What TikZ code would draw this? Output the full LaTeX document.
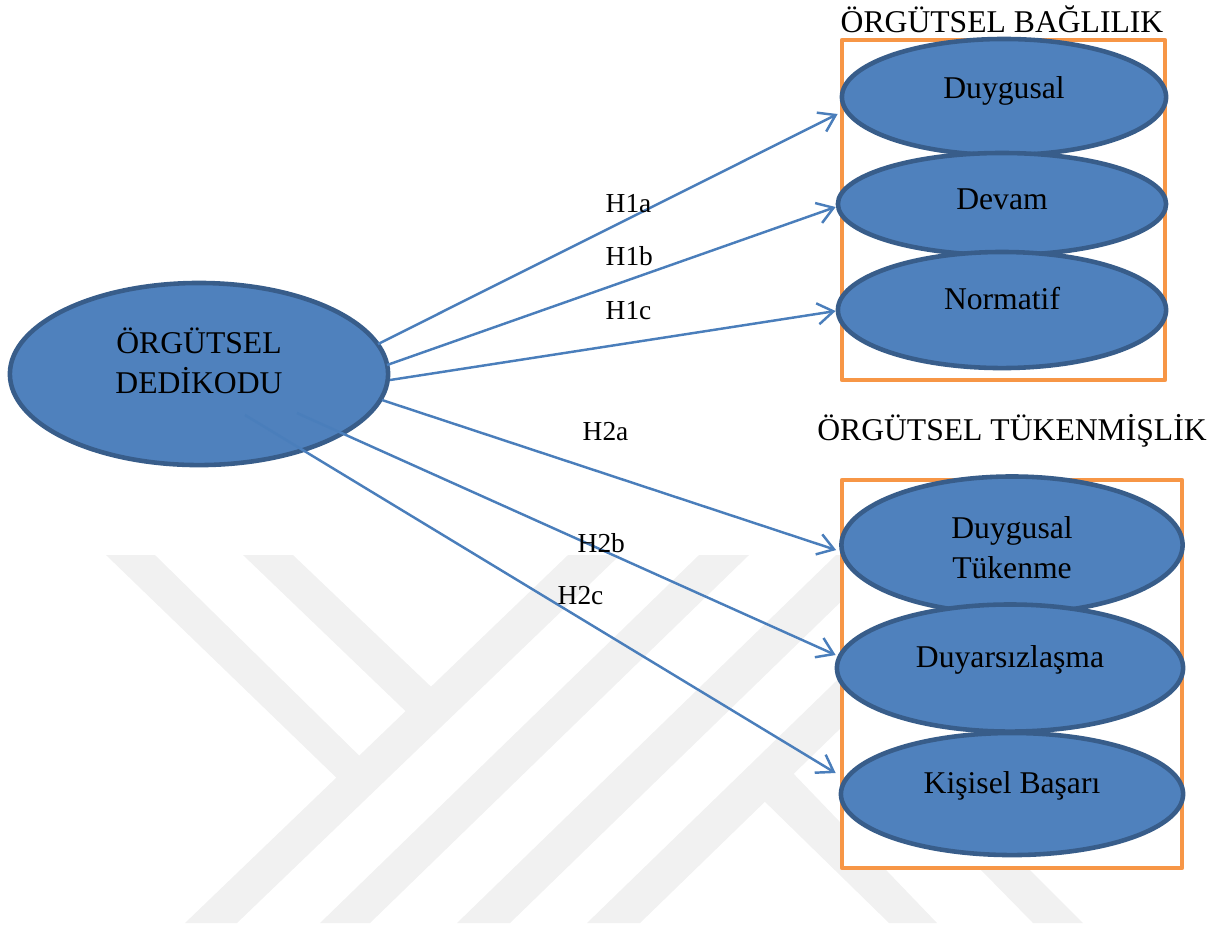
\documentclass[tikz,border=0pt]{standalone}
\usepackage{fontspec}
\setmainfont{Liberation Serif}
\usetikzlibrary{arrows.meta,calc,shapes.geometric}
\definecolor{shapefill}{RGB}{79,129,189}
\definecolor{shapeline}{RGB}{56,93,138}
\definecolor{linkblue}{RGB}{74,126,187}
\definecolor{frameorange}{RGB}{247,150,70}
\definecolor{markgray}{RGB}{241,241,241}
\begin{document}
\begin{tikzpicture}[x=0.01cm,y=-0.01cm,
  oval/.style={ellipse, fill=shapefill, draw=shapeline, line width=1.3pt, inner sep=0pt},
  caption/.style={font=\fontsize{9}{11.2}\selectfont, anchor=base, inner sep=0pt, align=center},
  hyp/.style={font=\fontsize{7.8}{9}\selectfont, anchor=base west, inner sep=0pt},
  frame/.style={draw=frameorange, fill=white, line width=1.2pt, line join=round},
  link/.style={draw=linkblue, line width=0.7pt, -{Straight Barb[length=4.5pt,width=6pt]}},
  wmark/.style={fill=markgray, draw=none}]
\useasboundingbox (0,0) rectangle (1222,929);

% light background emblem
\fill[wmark] (185,923) -- (237,923) -- (620,555) -- (568,555) -- cycle;
\fill[wmark] (106,555) -- (155,555) -- (380,776) -- (345,786) -- cycle;
\fill[wmark] (243,555) -- (293,555) -- (445,700) -- (420,725) -- cycle;
\fill[wmark] (320,923) -- (370,923) -- (749,555) -- (699,555) -- cycle;
\fill[wmark] (457,923) -- (510,923) -- (889,555) -- (836,555) -- cycle;
\fill[wmark] (587,923) -- (640,923) -- (1019,555) -- (966,555) -- cycle;
\fill[wmark] (758,795) -- (790,770) -- (937,923) -- (889,923) -- cycle;
\fill[wmark] (930,818) -- (978,818) -- (1083,923) -- (1033,923) -- cycle;

% group frames
\draw[frame] (842,40) rectangle (1165,380);
\draw[frame] (842,480) rectangle (1182,868);

% constructs
\node[oval, minimum width=3.78cm, minimum height=1.82cm] (ded) at (199,374) {};
\node[oval, minimum width=3.24cm, minimum height=1.16cm] (duy) at (1004,97) {};
\node[oval, minimum width=3.28cm, minimum height=1.02cm] (dev) at (1002,204) {};
\node[oval, minimum width=3.28cm, minimum height=1.16cm] (nor) at (1002,310) {};
\node[oval, minimum width=3.41cm, minimum height=1.37cm] (tuk) at (1012,545) {};
\node[oval, minimum width=3.46cm, minimum height=1.27cm] (duya) at (1010,668) {};
\node[oval, minimum width=3.42cm, minimum height=1.22cm] (kis) at (1012,794) {};

% captions (two-line captions sit on their last baseline)
\node[caption] (tded) at (199,393) {ÖRGÜTSEL\\DEDİKODU};
\node[caption] (tduy) at (1004,98) {Duygusal};
\node[caption] (tdev) at (1002,209) {Devam};
\node[caption] (tnor) at (1002,309) {Normatif};
\node[caption] (ttuk) at (1012,578) {Duygusal\\Tükenme};
\node[caption] (tduya) at (1010,667) {Duyarsızlaşma};
\node[caption] (tkis) at (1012,793) {Kişisel Başarı};
\node[caption] (head1) at (1002,32) {ÖRGÜTSEL BAĞLILIK};
\node[caption] (head2) at (1012,440) {ÖRGÜTSEL TÜKENMİŞLİK};

% hypotheses
\draw[link] ($(ded.center)+(179,-30)$) -- ($(duy.west)+(-2,17)$);
\draw[link] ($(ded.center)+(188,-9)$) -- ($(dev.west)+(0,3)$);
\draw[link] ($(ded.center)+(191,6)$) -- ($(nor.west)+(0,1)$);
\draw[link] ($(ded.center)+(183,26)$) -- ($(tuk.west)+(-3,5)$);
\draw[link] ($(ded.center)+(98,39)$) -- ($(duya.west)+(1,-13)$);
\draw[link] ($(ded.center)+(46,41)$) -- ($(kis.west)+(-3,-21)$);

\node[hyp] (h1a) at (605,212) {H1a};
\node[hyp] (h1b) at (605,265) {H1b};
\node[hyp] (h1c) at (605,319) {H1c};
\node[hyp] (h2a) at (582,440) {H2a};
\node[hyp] (h2b) at (577,552) {H2b};
\node[hyp] (h2c) at (557,604) {H2c};
\end{tikzpicture}
\end{document}
